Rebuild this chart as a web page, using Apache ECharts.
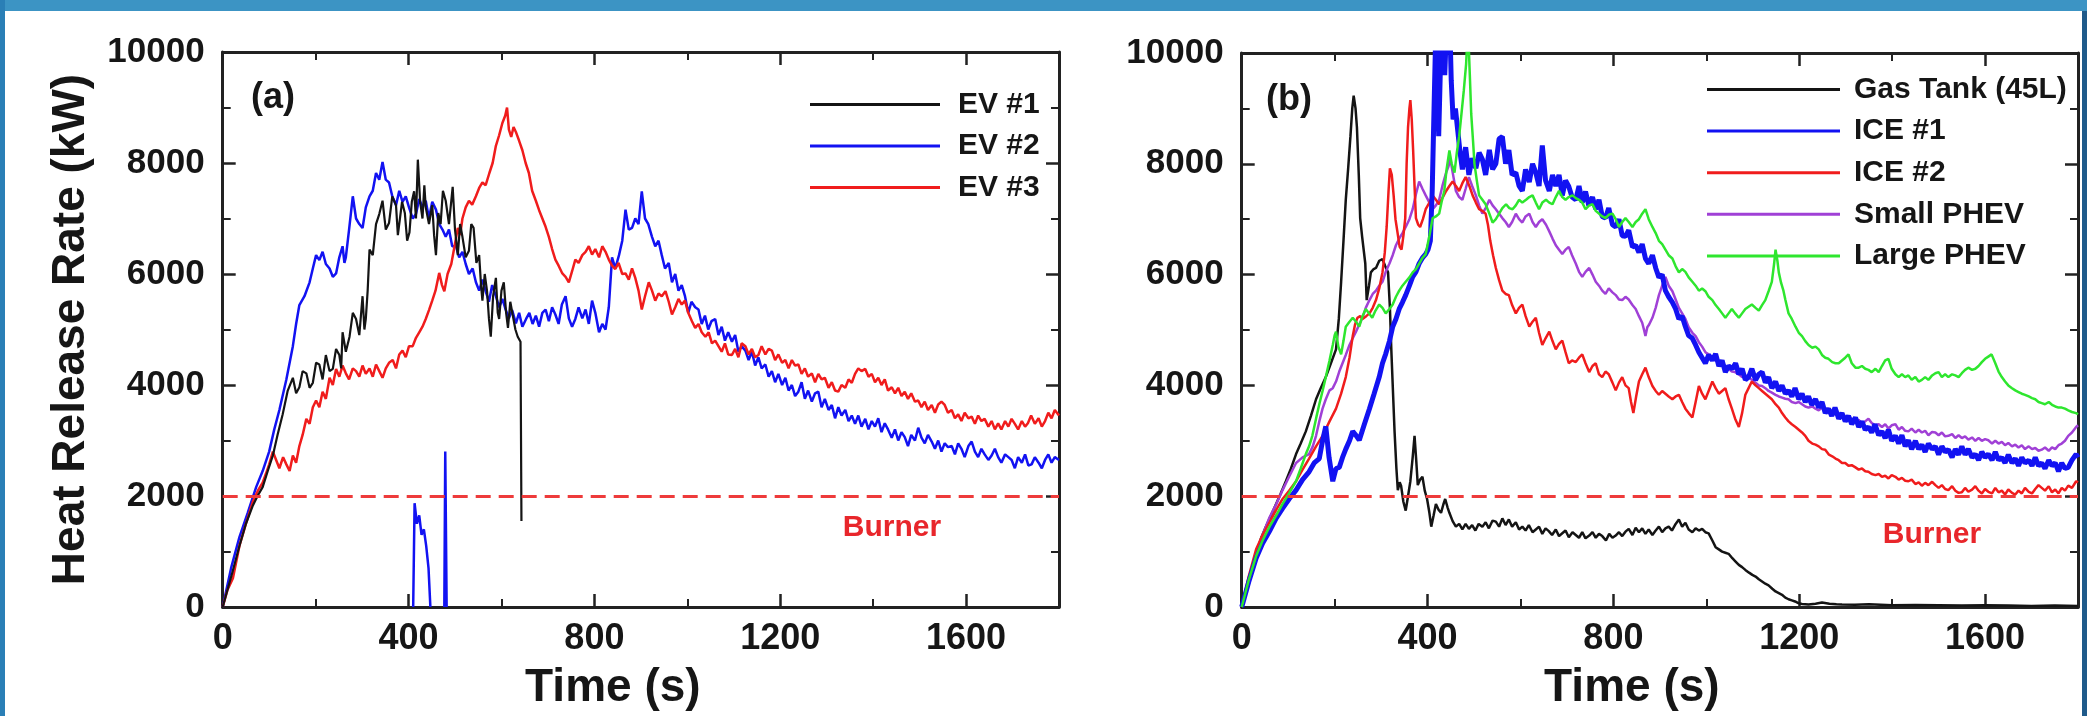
<!DOCTYPE html>
<html>
<head>
<meta charset="utf-8">
<title>Heat Release Rate</title>
<script src="https://cdn.jsdelivr.net/npm/echarts@6/dist/echarts.min.js"></script>
<style>
  html, body { margin: 0; padding: 0; background: #fff; }
  #chart { width: 2087px; height: 716px; }
</style>
</head>
<body>
<div id="chart"></div>
<script>
// tick values
var timeTicks = [0, 400, 800, 1200, 1600];
var hrrTicks = [0, 2000, 4000, 6000, 8000, 10000];
var burnerLevel = 2000;

// (a) electric vehicles, [time s, HRR kW]
var ev1 = [[0,0],[20,600],[36,1100],[50,1500],[65,1830],[75,2000],[86,2160],[97,2450],[108,2730],[118,3100],[129,3470],[140,3900],[151,4130],[158,3850],[165,3960],[172,4250],[180,4210],[187,3950],[194,4040],[201,4400],[208,4370],[215,4100],[222,4540],[230,4250],[237,4290],[244,4650],[251,4540],[255,4300],[258,4950],[265,4600],[273,4870],[280,5300],[287,5190],[294,4900],[301,5600],[305,5000],[308,5190],[312,5700],[316,6440],[323,6340],[330,6900],[337,7080],[344,7320],[351,6800],[358,6920],[365,7400],[373,7240],[377,6700],[380,6670],[386,7300],[392,7100],[397,6600],[402,6750],[407,7300],[412,7490],[416,7000],[420,8060],[425,7300],[430,7000],[434,7600],[437,7200],[444,6900],[451,7240],[455,6700],[459,6340],[464,7100],[469,6900],[474,7500],[480,7320],[487,6900],[495,7570],[500,6800],[506,6340],[511,6900],[516,6670],[523,6300],[530,6420],[535,6900],[540,6830],[546,6200],[552,6340],[556,5800],[559,5520],[564,6000],[569,5690],[573,5200],[577,4870],[582,5600],[588,5930],[592,5300],[595,5190],[600,5700],[605,5850],[610,5300],[614,5030],[619,5500],[624,5270],[630,5000],[635,4870],[641,4780],[643,1550]];

var ev2 = [[0,0],[18,700],[36,1260],[54,1700],[72,2160],[86,2450],[100,2800],[111,3200],[122,3550],[137,4100],[151,4700],[158,5100],[165,5440],[176,5600],[187,5850],[194,6100],[201,6340],[208,6250],[215,6400],[222,6180],[230,6100],[237,5950],[244,6010],[251,6300],[258,6500],[262,6200],[265,6300],[272,6800],[280,7400],[287,7000],[294,6900],[301,6830],[308,7200],[316,7400],[323,7500],[330,7820],[337,7700],[344,8020],[351,7700],[358,7650],[365,7400],[373,7240],[380,7500],[387,7300],[394,7400],[401,7200],[409,7000],[416,7080],[423,7350],[430,7200],[437,7320],[444,7000],[451,7300],[459,7160],[466,6900],[473,6800],[480,6670],[487,6800],[494,6500],[502,6500],[509,6300],[516,6400],[523,6180],[530,6000],[538,6100],[545,5850],[552,5700],[559,5900],[566,5690],[573,5500],[580,5800],[588,5600],[595,5400],[602,5550],[609,5360],[616,5200],[623,5350],[631,5110],[638,5300],[645,5050],[653,5190],[660,5300],[667,5100],[674,5250],[681,5050],[688,5300],[695,5360],[702,5150],[709,5400],[716,5270],[723,5100],[730,5450],[738,5600],[745,5200],[752,5050],[759,5190],[766,5400],[774,5200],[781,5360],[788,5100],[795,5520],[802,5300],[810,4950],[817,5100],[824,5000],[831,5400],[838,6300],[845,6100],[853,6340],[860,6600],[867,7160],[874,6800],[881,6830],[888,7000],[895,6900],[902,7490],[909,7000],[916,6900],[924,6670],[931,6500],[938,6600],[945,6340],[952,6100],[960,6200],[967,5850],[974,6000],[981,5700],[988,5800],[995,5600],[1002,5300],[1009,5500],[1017,5400],[1024,5360],[1031,5100],[1038,5250],[1045,5000],[1052,5150],[1060,5190],[1067,4900],[1074,5050],[1081,4800],[1088,4950],[1096,4780],[1103,4900],[1110,4600],[1117,4700],[1125,4620],[1132,4450],[1139,4600],[1146,4350],[1153,4500],[1160,4300],[1168,4370],[1175,4150],[1182,4250],[1189,4050],[1196,4200],[1204,4000],[1211,4130],[1218,3900],[1225,4000],[1232,3800],[1239,3880],[1246,4050],[1253,3750],[1260,3900],[1268,3700],[1275,3850],[1282,3880],[1289,3600],[1296,3750],[1304,3550],[1311,3640],[1318,3400],[1325,3600],[1332,3450],[1340,3550],[1347,3350],[1354,3450],[1361,3300],[1368,3450],[1375,3250],[1383,3390],[1390,3200],[1397,3350],[1404,3250],[1411,3400],[1418,3150],[1425,3310],[1432,3200],[1440,3050],[1447,3200],[1454,3000],[1461,3150],[1468,3060],[1475,2900],[1482,3100],[1490,3000],[1497,3230],[1504,3050],[1511,2950],[1518,3100],[1526,2980],[1533,2850],[1540,3000],[1547,2800],[1554,2950],[1561,2880],[1569,2900],[1576,2750],[1583,2950],[1590,2850],[1597,2700],[1605,2900],[1612,2980],[1619,2800],[1626,2700],[1633,2850],[1640,2750],[1648,2650],[1655,2730],[1662,2850],[1669,2700],[1676,2600],[1684,2750],[1691,2700],[1698,2650],[1705,2500],[1712,2700],[1720,2600],[1727,2750],[1734,2550],[1741,2570],[1748,2700],[1756,2600],[1763,2500],[1770,2650],[1777,2750],[1784,2600],[1791,2700],[1800,2650]];

// stray EV #2 readings near the bottom ('-' breaks the line)
var ev2Glitch = [[410,0],[413,1870],[418,1500],[423,1650],[428,1300],[433,1400],[438,1100],[443,700],[447,0],[460,'-'],[477,0],[479,2800],[482,0]];

var ev3 = [[0,0],[10,300],[22,520],[36,1100],[50,1500],[65,1900],[76,2100],[86,2240],[93,2400],[100,2570],[108,2800],[115,2650],[122,2500],[130,2700],[137,2570],[144,2450],[151,2730],[158,2600],[165,2900],[172,3100],[180,3390],[187,3300],[194,3600],[201,3720],[208,3600],[215,3880],[222,3750],[230,4130],[237,4000],[244,4290],[251,4150],[258,4350],[265,4210],[272,4100],[280,4300],[287,4250],[294,4150],[301,4350],[308,4200],[316,4300],[323,4150],[330,4370],[337,4250],[344,4130],[351,4300],[358,4400],[366,4450],[373,4300],[380,4550],[387,4620],[394,4500],[401,4700],[409,4700],[416,4850],[423,4950],[430,5050],[437,5190],[444,5350],[451,5520],[458,5700],[466,6020],[472,5800],[477,5690],[484,6000],[492,6180],[499,6500],[506,6830],[511,6700],[516,7000],[523,7200],[530,7320],[537,7250],[545,7400],[552,7550],[559,7650],[566,7600],[574,7820],[581,8000],[588,8310],[595,8500],[602,8720],[608,8850],[612,9000],[616,8600],[621,8470],[626,8650],[631,8560],[638,8400],[645,8230],[652,8000],[659,7820],[666,7500],[674,7320],[681,7150],[688,7000],[695,6850],[702,6670],[709,6450],[716,6260],[723,6150],[731,6010],[738,5950],[745,5850],[752,6050],[759,6260],[766,6200],[774,6340],[781,6400],[788,6500],[795,6350],[802,6450],[810,6300],[817,6500],[824,6400],[831,6260],[838,6150],[845,6090],[852,6200],[860,6000],[867,6010],[874,5900],[881,6100],[888,5930],[895,5700],[902,5360],[909,5600],[917,5850],[924,5700],[931,5520],[938,5650],[945,5600],[953,5690],[960,5500],[967,5270],[974,5400],[981,5550],[988,5450],[995,5520],[1002,5300],[1010,5150],[1017,5030],[1024,5100],[1031,4950],[1039,4870],[1046,4950],[1053,4750],[1060,4800],[1067,4700],[1074,4600],[1081,4750],[1088,4550],[1096,4540],[1103,4650],[1110,4500],[1117,4750],[1125,4700],[1132,4550],[1139,4650],[1146,4500],[1153,4540],[1160,4700],[1168,4550],[1175,4650],[1182,4620],[1189,4450],[1196,4550],[1204,4400],[1211,4450],[1218,4300],[1225,4450],[1232,4350],[1239,4370],[1246,4200],[1253,4300],[1260,4150],[1268,4210],[1275,4050],[1282,4200],[1289,4100],[1296,4130],[1304,3950],[1311,4050],[1318,3900],[1325,3880],[1332,4000],[1340,3950],[1347,4100],[1354,4040],[1361,4200],[1368,4300],[1375,4250],[1383,4290],[1390,4150],[1397,4200],[1404,4050],[1411,4130],[1418,4000],[1425,4100],[1432,3900],[1440,3960],[1447,3850],[1454,3950],[1461,3800],[1468,3880],[1475,3750],[1482,3850],[1490,3700],[1497,3720],[1504,3600],[1511,3700],[1518,3550],[1526,3640],[1533,3500],[1540,3650],[1547,3700],[1554,3640],[1561,3500],[1569,3550],[1576,3400],[1583,3470],[1590,3350],[1597,3500],[1605,3400],[1612,3430],[1619,3300],[1626,3450],[1633,3350],[1640,3390],[1648,3250],[1655,3350],[1662,3200],[1669,3310],[1676,3200],[1684,3350],[1691,3250],[1698,3390],[1705,3300],[1712,3200],[1720,3350],[1727,3250],[1733,3310],[1740,3450],[1748,3300],[1756,3400],[1763,3250],[1770,3350],[1777,3500],[1784,3400],[1791,3550],[1800,3450]];

// (b) combustion and hybrid vehicles
var gasTank = [[0,0],[15,500],[31,960],[42,1250],[52,1450],[63,1650],[74,1860],[84,2050],[95,2270],[106,2500],[117,2760],[127,2950],[138,3170],[149,3450],[160,3750],[170,3950],[181,4150],[192,4400],[203,4650],[209,5200],[214,5870],[219,6600],[224,7350],[229,7900],[234,8490],[238,9000],[241,9230],[245,9000],[248,8660],[252,7800],[255,7020],[259,6700],[263,6690],[266,6200],[269,5540],[274,5800],[278,6040],[284,6100],[289,6120],[296,6250],[303,6280],[309,6150],[315,6040],[319,5400],[322,4650],[326,3800],[329,3170],[333,2500],[336,2110],[340,2250],[343,2190],[348,1900],[353,1740],[358,2000],[363,2270],[368,2700],[372,3090],[376,2600],[379,2200],[384,2300],[389,2350],[394,2100],[399,1950],[404,1700],[408,1450],[413,1650],[418,1860],[424,1750],[429,1700],[434,1850],[438,1950],[443,1800],[447,1700],[454,1550],[461,1450],[468,1500],[475,1400],[482,1500],[489,1410],[496,1480],[503,1380],[510,1500],[518,1450],[525,1530],[532,1420],[540,1560],[547,1540],[554,1450],[561,1600],[568,1480],[575,1580],[582,1450],[590,1530],[597,1400],[604,1450],[611,1380],[618,1480],[626,1350],[633,1400],[640,1450],[647,1320],[654,1420],[661,1370],[668,1300],[676,1400],[683,1280],[690,1330],[697,1380],[704,1260],[712,1350],[719,1300],[726,1250],[733,1350],[740,1240],[748,1290],[755,1350],[762,1250],[769,1320],[776,1280],[784,1200],[791,1320],[798,1250],[805,1290],[812,1350],[819,1280],[826,1360],[833,1410],[841,1300],[848,1430],[855,1350],[862,1420],[869,1320],[876,1400],[884,1300],[891,1380],[898,1450],[905,1350],[912,1420],[919,1450],[926,1380],[934,1500],[941,1580],[948,1450],[955,1520],[962,1400],[970,1350],[977,1420],[984,1380],[991,1410],[998,1350],[1005,1330],[1013,1200],[1020,1080],[1027,1040],[1034,1000],[1041,980],[1048,960],[1056,880],[1063,820],[1070,760],[1077,720],[1084,670],[1092,620],[1099,580],[1106,550],[1113,500],[1120,460],[1127,420],[1134,390],[1142,330],[1149,280],[1156,250],[1163,220],[1170,170],[1177,140],[1184,120],[1191,100],[1198,70],[1206,55],[1220,45],[1235,60],[1249,80],[1265,60],[1280,50],[1292,45],[1320,40],[1350,50],[1400,30],[1450,35],[1500,30],[1550,25],[1600,30],[1650,25],[1700,20],[1750,25],[1800,20]];

var ice1 = [[0,0],[15,450],[31,880],[45,1150],[60,1370],[74,1600],[88,1780],[102,1950],[117,2110],[131,2300],[145,2440],[156,2600],[167,2680],[174,3000],[181,3260],[188,2700],[196,2270],[203,2500],[210,2520],[217,2700],[224,2850],[232,3000],[239,3170],[246,3100],[253,3010],[264,3300],[275,3580],[285,3850],[296,4150],[303,4400],[310,4570],[318,4800],[325,5060],[332,5200],[339,5380],[346,5500],[353,5630],[361,5800],[368,5960],[375,6050],[382,6200],[389,6300],[396,6370],[401,6450],[406,6610],[410,7500],[414,9000],[418,10500],[421,9600],[424,8500],[427,9500],[430,10500],[434,10000],[437,9600],[441,10500],[444,10500],[448,10500],[451,9500],[455,8800],[460,9000],[465,8600],[470,8200],[475,7900],[482,8300],[489,7800],[496,8100],[504,7920],[511,8200],[518,8080],[525,7800],[533,8250],[540,7900],[547,8000],[554,8450],[561,8490],[568,8000],[575,8250],[582,7800],[590,7840],[597,7600],[604,7510],[611,7900],[619,7670],[626,8000],[633,7840],[640,7600],[647,8330],[654,7700],[662,7510],[669,7800],[676,7600],[683,7800],[690,7430],[697,7700],[704,7590],[711,7400],[719,7350],[726,7600],[733,7300],[740,7500],[747,7250],[755,7400],[762,7180],[769,7350],[776,7050],[783,7020],[790,7200],[798,6900],[805,6860],[812,7000],[819,6700],[826,6690],[833,6800],[841,6500],[848,6530],[855,6400],[862,6550],[869,6290],[876,6200],[884,6350],[891,6120],[898,5950],[905,6000],[912,5710],[919,5600],[927,5500],[934,5380],[941,5200],[948,5250],[955,5060],[962,4900],[970,4850],[977,4730],[984,4600],[991,4500],[998,4400],[1005,4550],[1013,4450],[1020,4570],[1027,4350],[1034,4450],[1041,4240],[1048,4350],[1056,4300],[1063,4400],[1070,4200],[1077,4300],[1084,4100],[1091,4150],[1098,4300],[1106,4100],[1113,4200],[1120,4240],[1127,4050],[1134,4150],[1141,3950],[1149,4070],[1156,3900],[1163,4000],[1170,3850],[1177,3910],[1184,3800],[1191,3950],[1199,3750],[1206,3850],[1213,3700],[1220,3800],[1227,3650],[1235,3750],[1242,3600],[1249,3700],[1256,3500],[1263,3580],[1270,3450],[1277,3600],[1285,3400],[1292,3500],[1299,3350],[1306,3450],[1313,3300],[1321,3420],[1328,3250],[1335,3350],[1342,3200],[1349,3250],[1356,3150],[1363,3300],[1371,3100],[1378,3170],[1385,3050],[1392,3200],[1399,3000],[1407,3090],[1414,2950],[1421,3100],[1428,2900],[1435,3010],[1442,2850],[1450,3000],[1457,2850],[1464,2930],[1471,2800],[1478,2950],[1486,2850],[1493,2900],[1500,2750],[1507,2900],[1514,2800],[1521,2840],[1529,2700],[1536,2850],[1543,2750],[1550,2900],[1557,2750],[1564,2850],[1572,2700],[1579,2760],[1586,2650],[1593,2800],[1600,2700],[1607,2760],[1615,2650],[1622,2800],[1629,2650],[1636,2700],[1643,2600],[1650,2750],[1658,2600],[1665,2680],[1672,2550],[1679,2700],[1686,2600],[1694,2650],[1701,2550],[1708,2700],[1715,2550],[1722,2600],[1729,2500],[1737,2650],[1744,2550],[1751,2600],[1758,2450],[1765,2600],[1772,2500],[1779,2520],[1787,2650],[1796,2760],[1800,2700]];

var ice2 = [[0,0],[15,550],[31,1040],[45,1300],[60,1530],[74,1750],[88,1950],[102,2100],[117,2270],[131,2480],[145,2680],[160,2900],[174,3090],[189,3350],[203,3580],[214,3850],[224,4150],[232,4500],[239,4890],[244,5100],[249,5220],[255,5250],[260,5200],[268,5250],[275,5300],[282,5400],[289,5540],[296,5750],[303,6040],[308,6400],[312,6860],[316,7500],[319,7920],[323,7800],[327,7430],[331,7000],[335,6780],[340,6500],[344,6450],[348,6700],[352,7020],[355,8000],[358,8660],[361,9000],[363,9150],[366,8800],[369,8240],[372,7600],[375,7020],[380,6900],[384,6860],[390,7000],[396,7180],[404,7300],[411,7430],[418,7350],[425,7270],[433,7400],[440,7510],[447,7600],[454,7680],[461,7600],[468,7510],[475,7650],[482,7760],[490,7600],[497,7430],[504,7300],[511,7180],[518,7150],[525,7100],[530,6900],[535,6610],[541,6350],[547,6120],[554,5900],[561,5710],[568,5650],[575,5630],[582,5450],[590,5300],[597,5400],[604,5460],[611,5250],[619,5060],[626,5150],[633,5220],[640,4950],[647,4730],[654,4850],[662,4970],[669,4800],[676,4650],[683,4750],[690,4810],[697,4600],[704,4400],[711,4450],[719,4420],[726,4500],[733,4560],[740,4400],[748,4240],[755,4350],[762,4400],[769,4200],[776,4150],[783,4250],[790,4200],[798,4050],[805,3910],[812,4050],[819,4150],[826,4000],[833,3950],[838,3700],[843,3500],[849,3800],[855,4070],[862,4200],[869,4320],[876,4150],[884,3990],[891,3900],[898,3830],[905,3900],[912,3850],[919,3800],[927,3750],[934,3800],[941,3830],[948,3700],[955,3580],[962,3500],[970,3420],[977,3700],[984,3990],[991,3850],[998,3750],[1005,3900],[1013,4070],[1020,3950],[1027,3850],[1034,3900],[1041,3950],[1048,3750],[1055,3580],[1062,3400],[1070,3250],[1077,3500],[1084,3830],[1091,3950],[1098,4070],[1106,4000],[1113,3950],[1120,3900],[1127,3850],[1134,3800],[1141,3750],[1149,3660],[1156,3600],[1163,3500],[1170,3420],[1177,3350],[1184,3300],[1192,3250],[1199,3200],[1206,3150],[1213,3090],[1220,3000],[1228,2950],[1235,2930],[1242,2900],[1249,2850],[1256,2840],[1264,2750],[1271,2720],[1278,2680],[1285,2650],[1292,2600],[1299,2600],[1306,2550],[1313,2560],[1321,2520],[1328,2480],[1335,2500],[1342,2450],[1349,2440],[1356,2400],[1364,2380],[1371,2400],[1378,2350],[1385,2370],[1392,2320],[1399,2380],[1407,2350],[1414,2300],[1421,2330],[1428,2280],[1435,2270],[1442,2300],[1450,2220],[1457,2250],[1464,2190],[1471,2240],[1478,2200],[1486,2260],[1493,2200],[1500,2150],[1507,2200],[1514,2130],[1521,2110],[1529,2180],[1536,2100],[1543,2060],[1550,2070],[1557,2150],[1564,2080],[1572,2120],[1579,2180],[1586,2100],[1593,2050],[1600,2130],[1607,2080],[1615,2050],[1622,2150],[1629,2070],[1636,2100],[1643,2030],[1650,2120],[1658,2060],[1665,2030],[1672,2100],[1679,2050],[1686,2150],[1694,2080],[1701,2050],[1708,2130],[1715,2200],[1722,2150],[1729,2100],[1737,2180],[1744,2070],[1751,2120],[1758,2050],[1765,2150],[1772,2100],[1779,2190],[1787,2150],[1796,2270],[1800,2250]];

var smallPhev = [[0,0],[15,500],[31,960],[45,1300],[60,1620],[74,1850],[88,2110],[102,2350],[117,2600],[131,2700],[145,2760],[153,2900],[160,3090],[167,3350],[174,3580],[181,3750],[189,3910],[196,3950],[203,4070],[210,4250],[217,4400],[224,4550],[232,4730],[239,4850],[246,4970],[253,5100],[260,5220],[267,5400],[275,5540],[282,5650],[289,5710],[296,5800],[303,5870],[310,6050],[318,6200],[325,6350],[332,6530],[339,6650],[346,6750],[353,6860],[361,7000],[368,7180],[375,7450],[382,7680],[389,7550],[396,7430],[404,7300],[411,7180],[418,7250],[425,7350],[432,7600],[440,7840],[445,7950],[449,8090],[455,7800],[461,7510],[468,7400],[475,7350],[482,7550],[489,7760],[496,7600],[504,7430],[511,7250],[518,7100],[525,7200],[533,7350],[540,7250],[547,7180],[554,7100],[561,7020],[568,6950],[575,6860],[582,6950],[590,7100],[597,7000],[604,6940],[611,7050],[619,7100],[626,6950],[633,6860],[640,6950],[647,7000],[655,6900],[662,6780],[669,6650],[676,6530],[683,6450],[690,6370],[697,6450],[704,6500],[711,6350],[719,6200],[726,6050],[733,5960],[740,6050],[748,6120],[755,6000],[762,5870],[769,5800],[776,5710],[783,5650],[790,5750],[798,5680],[805,5630],[812,5550],[819,5540],[826,5600],[833,5550],[841,5450],[848,5380],[855,5250],[862,5130],[866,5000],[869,4890],[873,5050],[877,5100],[884,5220],[891,5400],[898,5630],[905,5800],[912,5960],[919,5800],[927,5700],[934,5550],[941,5400],[948,5300],[955,5200],[962,5050],[970,4950],[977,4890],[984,4780],[991,4700],[998,4600],[1005,4560],[1013,4500],[1020,4450],[1027,4420],[1034,4400],[1041,4350],[1048,4300],[1055,4250],[1062,4240],[1070,4200],[1077,4150],[1084,4180],[1091,4150],[1098,4100],[1106,4050],[1113,4000],[1120,3990],[1127,3950],[1134,3900],[1141,3870],[1149,3830],[1156,3800],[1163,3780],[1170,3760],[1177,3750],[1184,3700],[1192,3680],[1199,3700],[1206,3660],[1213,3620],[1220,3600],[1228,3620],[1235,3580],[1242,3550],[1249,3600],[1256,3560],[1263,3580],[1271,3500],[1278,3480],[1285,3450],[1292,3420],[1299,3450],[1306,3380],[1313,3400],[1321,3340],[1328,3380],[1335,3300],[1342,3350],[1349,3400],[1356,3320],[1364,3280],[1371,3300],[1378,3250],[1385,3300],[1392,3220],[1399,3280],[1407,3300],[1414,3200],[1421,3250],[1428,3180],[1435,3170],[1442,3220],[1450,3150],[1457,3200],[1464,3150],[1471,3180],[1478,3100],[1486,3160],[1493,3150],[1500,3100],[1507,3150],[1514,3080],[1521,3090],[1529,3120],[1536,3050],[1543,3100],[1550,3050],[1557,3080],[1564,3020],[1572,3060],[1579,3000],[1586,3050],[1593,3000],[1600,3030],[1607,3010],[1615,2950],[1622,3000],[1629,2950],[1636,2980],[1643,2920],[1650,2960],[1658,2900],[1665,2930],[1672,2880],[1679,2920],[1686,2850],[1694,2900],[1701,2850],[1708,2870],[1715,2820],[1722,2840],[1729,2880],[1737,2820],[1744,2880],[1751,2850],[1758,2920],[1765,2950],[1772,3000],[1779,3090],[1787,3150],[1796,3250],[1800,3280]];

var largePhev = [[0,0],[15,480],[31,920],[45,1200],[60,1450],[74,1650],[88,1860],[102,2050],[117,2270],[127,2500],[138,2760],[145,2900],[152,3090],[160,3400],[167,3660],[174,3900],[181,4150],[189,4450],[196,4730],[200,4900],[203,4970],[208,4700],[214,4560],[219,4800],[224,5060],[232,5150],[239,5220],[246,5150],[253,5060],[260,5250],[267,5380],[274,5300],[281,5220],[288,5350],[296,5460],[303,5400],[310,5300],[318,5380],[325,5460],[332,5600],[339,5710],[346,5800],[353,5870],[361,5950],[368,6040],[375,6100],[382,6200],[389,6300],[396,6370],[404,6700],[411,7020],[418,7050],[425,7100],[430,7300],[436,7510],[441,7900],[447,8240],[452,8000],[458,7840],[463,8200],[468,8490],[473,8900],[478,9320],[483,9800],[487,10500],[491,9600],[494,8900],[498,8400],[501,8000],[506,7700],[511,7430],[518,7350],[525,7270],[533,7100],[540,6940],[547,7000],[554,7100],[561,7200],[569,7270],[576,7200],[583,7180],[590,7250],[597,7350],[604,7300],[612,7350],[619,7400],[626,7430],[633,7300],[640,7180],[647,7300],[655,7350],[662,7300],[669,7270],[676,7400],[683,7510],[690,7400],[697,7350],[704,7400],[712,7430],[719,7380],[726,7350],[733,7300],[740,7180],[748,7250],[755,7270],[762,7150],[769,7100],[776,7050],[783,7020],[790,7080],[798,7100],[805,7000],[812,6860],[819,6950],[826,7020],[833,6950],[841,6860],[848,6950],[855,7000],[862,7100],[869,7180],[876,7000],[884,6860],[891,6750],[898,6610],[905,6550],[912,6450],[919,6350],[927,6290],[934,6150],[941,6040],[948,6100],[955,6050],[962,5950],[970,5870],[977,5800],[984,5710],[991,5750],[998,5700],[1005,5600],[1013,5540],[1020,5450],[1027,5380],[1034,5300],[1041,5220],[1048,5300],[1055,5380],[1062,5300],[1070,5220],[1077,5300],[1084,5380],[1091,5420],[1098,5460],[1106,5400],[1113,5350],[1120,5450],[1127,5540],[1134,5700],[1141,5870],[1146,6200],[1149,6450],[1153,6250],[1156,6040],[1161,5850],[1166,5710],[1170,5550],[1177,5300],[1184,5200],[1192,5060],[1199,4950],[1206,4890],[1213,4800],[1220,4730],[1228,4680],[1235,4700],[1242,4650],[1249,4550],[1256,4500],[1263,4480],[1271,4420],[1278,4400],[1285,4400],[1292,4450],[1299,4500],[1306,4560],[1313,4400],[1321,4320],[1328,4320],[1335,4350],[1342,4300],[1349,4280],[1356,4240],[1364,4300],[1371,4240],[1378,4350],[1385,4450],[1392,4480],[1399,4300],[1407,4200],[1414,4150],[1421,4200],[1428,4150],[1435,4180],[1442,4100],[1450,4150],[1457,4070],[1464,4100],[1471,4150],[1478,4100],[1486,4180],[1493,4220],[1500,4240],[1507,4150],[1514,4200],[1521,4150],[1529,4200],[1536,4180],[1543,4150],[1550,4220],[1557,4280],[1564,4320],[1572,4280],[1579,4300],[1586,4350],[1593,4420],[1600,4480],[1607,4520],[1614,4560],[1622,4400],[1629,4250],[1636,4150],[1643,4070],[1650,4000],[1658,3950],[1665,3910],[1672,3880],[1679,3850],[1686,3830],[1694,3800],[1701,3770],[1708,3750],[1715,3700],[1722,3680],[1729,3660],[1737,3700],[1744,3650],[1751,3620],[1758,3600],[1765,3600],[1772,3580],[1779,3550],[1787,3520],[1796,3500],[1800,3480]];

var legendA = ['EV #1', 'EV #2', 'EV #3'];
var legendB = ['Gas Tank (45L)', 'ICE #1', 'ICE #2', 'Small PHEV', 'Large PHEV'];

var FONT = 'Liberation Sans';
var INK = '#161616';

var myChart = echarts.init(document.getElementById('chart'));

// plain numbers on the ticks, no thousands separator
function plain(v) {
    return String(v);
}

// one frame = bottom/left axes with labels + top/right mirror axes (ticks only)
function xAxes(gridIndex, withName) {
    var common = {
        type: 'value', gridIndex: gridIndex, min: 0, max: 1800, interval: 400,
        axisLine: { show: true, onZero: false, lineStyle: { color: '#222', width: 3 } },
        axisTick: { show: true, inside: true, length: 13, lineStyle: { color: '#222', width: 2.5 } },
        minorTick: { show: true, splitNumber: 2, length: 8, lineStyle: { color: '#222', width: 2 } },
        splitLine: { show: false },
        minorSplitLine: { show: false }
    };
    var bottom = Object.assign({}, common, {
        position: 'bottom',
        axisLabel: { show: true, showMaxLabel: false, formatter: plain, margin: 14, color: INK, fontSize: 36, fontWeight: 'bold', fontFamily: FONT },
        name: withName, nameLocation: 'middle', nameGap: 58,
        nameTextStyle: { color: INK, fontSize: 46, fontWeight: 'bold', fontFamily: FONT, padding: [0, 56, 0, 0] }
    });
    var top = Object.assign({}, common, { position: 'top', axisLabel: { show: false } });
    return [bottom, top];
}

function yAxes(gridIndex, withName) {
    var common = {
        type: 'value', gridIndex: gridIndex, min: 0, max: 10000, interval: 2000,
        axisLine: { show: true, onZero: false, lineStyle: { color: '#222', width: 3 } },
        axisTick: { show: true, inside: true, length: 13, lineStyle: { color: '#222', width: 2.5 } },
        minorTick: { show: true, splitNumber: 2, length: 8, lineStyle: { color: '#222', width: 2 } },
        splitLine: { show: false },
        minorSplitLine: { show: false }
    };
    var left = Object.assign({}, common, {
        position: 'left',
        axisLabel: { show: true, formatter: plain, margin: 18, color: INK, fontSize: 35, fontWeight: 'bold', fontFamily: FONT }
    });
    if (withName) {
        left.name = withName;
        left.nameLocation = 'middle';
        left.nameGap = 128;
        left.nameTextStyle = { color: INK, fontSize: 46, fontWeight: 'bold', fontFamily: FONT };
    }
    var right = Object.assign({}, common, { position: 'right', axisLabel: { show: false } });
    return [left, right];
}

function curve(name, data, color, width, xi, yi) {
    return {
        type: 'line', name: name, data: data,
        xAxisIndex: xi, yAxisIndex: yi,
        showSymbol: false, symbol: 'none', connectNulls: false,
        lineStyle: { color: color, width: width },
        itemStyle: { color: color },
        emphasis: { disabled: true },
        animation: false
    };
}

var burnerLine = {
    silent: true, symbol: ['none', 'none'], label: { show: false },
    lineStyle: { type: [15, 8], color: '#ee3b3b', width: 3 },
    data: [{ yAxis: burnerLevel }]
};

var xs = xAxes(0, 'Time (s)').concat(xAxes(1, 'Time (s)'));
var ys = yAxes(0, 'Heat Release Rate (kW)').concat(yAxes(1, null));

var sEv2 = curve('EV #2', ev2, '#1212f2', 2.5, 0, 0);
sEv2.markLine = burnerLine;
var sGas = curve('Gas Tank (45L)', gasTank, '#141414', 2.5, 2, 2);
sGas.markLine = burnerLine;

var legendText = { color: INK, fontSize: 30, fontWeight: 'bold', fontFamily: FONT, lineHeight: 30 };

var option = {
    backgroundColor: '#ffffff',
    animation: false,
    textStyle: { fontFamily: FONT },
    grid: [
        { left: 222.7, top: 52, width: 836.3, height: 557 },
        { left: 1241.7, top: 53, width: 836.3, height: 557.7 }
    ],
    xAxis: xs,
    yAxis: ys,
    legend: [
        {
            data: legendA, orient: 'vertical', left: 805, top: 84.5,
            icon: 'rect', itemWidth: 130, itemHeight: 3, itemGap: 11.5,
            textStyle: Object.assign({ padding: [0, 0, 0, 13] }, legendText),
            selectedMode: false
        },
        {
            data: legendB, orient: 'vertical', left: 1702, top: 69.5,
            icon: 'rect', itemWidth: 133, itemHeight: 3, itemGap: 11.6,
            textStyle: Object.assign({ padding: [0, 0, 0, 9] }, legendText),
            selectedMode: false
        }
    ],
    series: [
        sEv2,
        curve('EV #2', ev2Glitch, '#1212f2', 2.5, 0, 0),
        curve('EV #3', ev3, '#f01c1c', 2.5, 0, 0),
        curve('EV #1', ev1, '#141414', 2.2, 0, 0),
        sGas,
        curve('Small PHEV', smallPhev, '#a040d6', 2.5, 2, 2),
        curve('ICE #2', ice2, '#f01c1c', 2.5, 2, 2),
        curve('ICE #1', ice1, '#1212f2', 5, 2, 2),
        curve('Large PHEV', largePhev, '#2ee62e', 2.5, 2, 2)
    ],
    graphic: [
        { type: 'rect', shape: { x: 0, y: 0, width: 2087, height: 11 }, style: { fill: '#3c94c4' }, z: 200 },
        { type: 'rect', shape: { x: 0, y: 0, width: 5, height: 716 }, style: { fill: '#2a7fb6' }, z: 200 },
        { type: 'rect', shape: { x: 2082, y: 11, width: 5, height: 705 }, style: { fill: '#1f5a8a' }, z: 200 },
        { type: 'text', x: 273, y: 98, z: 200, style: { text: '(a)', font: 'bold 36px "Liberation Sans"', fill: INK, align: 'center', verticalAlign: 'middle', textAlign: 'center', textVerticalAlign: 'middle' } },
        { type: 'text', x: 1289, y: 100, z: 200, style: { text: '(b)', font: 'bold 36px "Liberation Sans"', fill: INK, align: 'center', verticalAlign: 'middle', textAlign: 'center', textVerticalAlign: 'middle' } },
        { type: 'text', x: 892, y: 528, z: 200, style: { text: 'Burner', font: 'bold 30px "Liberation Sans"', fill: '#e8262b', align: 'center', verticalAlign: 'middle', textAlign: 'center', textVerticalAlign: 'middle' } },
        { type: 'text', x: 1932, y: 535, z: 200, style: { text: 'Burner', font: 'bold 30px "Liberation Sans"', fill: '#e8262b', align: 'center', verticalAlign: 'middle', textAlign: 'center', textVerticalAlign: 'middle' } }
    ]
};

myChart.setOption(option);
window.addEventListener('resize', function () {
    myChart.resize();
});
</script>
</body>
</html>
